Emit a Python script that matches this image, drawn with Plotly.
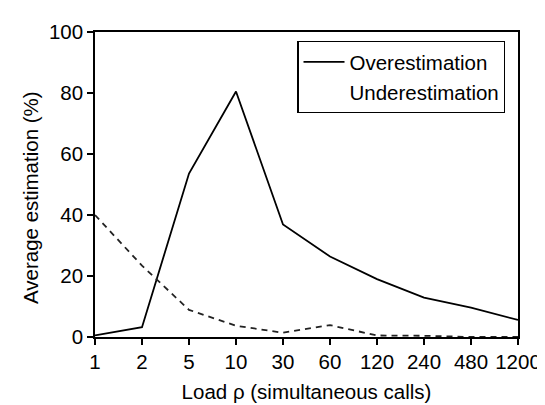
import plotly.graph_objects as go

loads = ["1", "2", "5", "10", "30", "60", "120", "240", "480", "1200"]
overestimation = [0.5, 3.2, 53.6, 80.5, 36.9, 26.4, 19.0, 12.9, 9.6, 5.6]
underestimation = [40.0, 23.4, 8.9, 3.7, 1.4, 3.9, 0.5, 0.4, 0.0, 0.0]

FONT = "Liberation Sans, Arial, sans-serif"
FS = 20.5

fig = go.Figure()
fig.add_trace(go.Scatter(
    x=loads, y=overestimation, mode="lines", name="Overestimation",
    line=dict(color="black", width=1.8),
))
fig.add_trace(go.Scatter(
    x=loads, y=underestimation, mode="lines", name="Underestimation",
    line=dict(color="#222222", width=1.8, dash="6px,5px"),
    showlegend=False,
))
# legend-only entry (no visible sample, as in the reference)
fig.add_trace(go.Scatter(
    x=[None], y=[None], mode="lines", name="Underestimation",
    line=dict(color="rgba(0,0,0,0)", width=1),
))

fig.update_layout(
    width=545, height=405,
    margin=dict(l=87, r=26, t=22, b=76),
    paper_bgcolor="white", plot_bgcolor="white",
    font=dict(family=FONT, size=FS, color="black"),
    showlegend=True,
    legend=dict(
        x=0.97, xanchor="right", y=0.971, yanchor="top",
        bordercolor="black", borderwidth=1.2, bgcolor="white",
        font=dict(size=FS), tracegroupgap=0, itemwidth=41,
    ),
    xaxis=dict(
        type="category", range=[0, 9],
        showline=True, linecolor="black", linewidth=1.5, mirror=True,
        ticks="outside", ticklen=6, tickcolor="black", tickwidth=1.5,
        showgrid=False, zeroline=False,
        title=dict(text="Load ρ (simultaneous calls)", font=dict(size=FS), standoff=12),
    ),
    yaxis=dict(
        range=[0, 100], dtick=20,
        showline=True, linecolor="black", linewidth=1.5, mirror=True,
        ticks="outside", ticklen=6, tickcolor="black", tickwidth=1.5,
        showgrid=False, zeroline=False,
    ),
    annotations=[dict(
        text="Average estimation (%)", textangle=-90,
        xref="paper", yref="paper", x=-0.151, y=0.456,
        xanchor="center", yanchor="middle", showarrow=False,
        font=dict(size=FS),
    )],
)

fig.write_html("out.html")
